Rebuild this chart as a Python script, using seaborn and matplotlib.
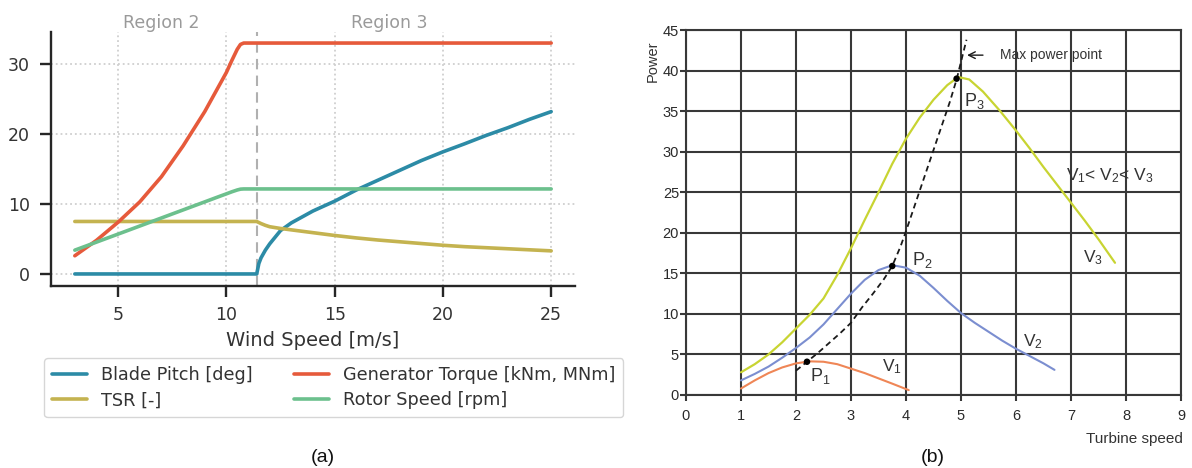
import numpy as np
import pandas as pd
import matplotlib
matplotlib.use("Agg")
import matplotlib.pyplot as plt
import seaborn as sns

# ---------------- Panel (a) data ----------------
wind = [3, 4, 5, 6, 7, 8, 9, 9.5, 10, 10.25, 10.5, 10.65, 10.8, 11, 11.4, 11.5, 11.6,
        11.8, 12, 12.5, 13, 14, 15, 16, 17, 18, 19, 20, 21, 22, 23, 24, 25]
blade_pitch = [0, 0, 0, 0, 0, 0, 0, 0, 0, 0, 0, 0, 0, 0, 0, 1.5, 2.3,
               3.4, 4.3, 6.2, 7.3, 9.0, 10.4, 12.0, 13.4, 14.8, 16.2, 17.45, 18.6, 19.8,
               20.9, 22.1, 23.2]
tsr = [7.5, 7.5, 7.5, 7.5, 7.5, 7.5, 7.5, 7.5, 7.5, 7.5, 7.5, 7.5, 7.5, 7.5, 7.5, 7.35,
       7.2, 6.95, 6.75, 6.5, 6.3, 5.9, 5.5, 5.15, 4.85, 4.6, 4.35, 4.1, 3.9, 3.75, 3.6,
       3.45, 3.3]
gen_torque = [2.6, 4.8, 7.4, 10.3, 13.9, 18.3, 23.2, 26.0, 28.8, 30.5, 32.1, 32.8, 33.0,
              33.0, 33.0, 33.0, 33.0, 33.0, 33.0, 33.0, 33.0, 33.0, 33.0, 33.0, 33.0,
              33.0, 33.0, 33.0, 33.0, 33.0, 33.0, 33.0, 33.0]
rotor_speed = [3.4, 4.55, 5.7, 6.85, 8.0, 9.15, 10.3, 10.88, 11.45, 11.74, 12.0, 12.12,
               12.15, 12.15, 12.15, 12.15, 12.15, 12.15, 12.15, 12.15, 12.15, 12.15,
               12.15, 12.15, 12.15, 12.15, 12.15, 12.15, 12.15, 12.15, 12.15, 12.15, 12.15]
series_a = ["Blade Pitch [deg]", "TSR [-]", "Generator Torque [kNm, MNm]", "Rotor Speed [rpm]"]
colors_a = ["#2C8BA6", "#C4B350", "#E65A3B", "#6CC08D"]
rated_wind = 11.4
region_labels = ["Region 2", "Region 3"]
region_x = [7.0, 17.5]

# ---------------- Panel (b) data ----------------
speed_v1 = [1.0, 1.25, 1.5, 1.75, 2.0, 2.25, 2.5, 2.75, 3.0, 3.25, 3.5, 3.75, 4.05]
power_v1 = [0.8, 1.8, 2.7, 3.4, 3.9, 4.15, 4.1, 3.8, 3.25, 2.7, 2.05, 1.4, 0.6]
speed_v2 = [1.0, 1.25, 1.5, 1.75, 2.0, 2.25, 2.5, 2.75, 3.0, 3.25, 3.5, 3.75, 4.0, 4.25,
            4.5, 4.75, 5.0, 5.25, 5.5, 5.75, 6.0, 6.25, 6.5, 6.7]
power_v2 = [1.8, 2.6, 3.5, 4.6, 5.8, 7.1, 8.7, 10.6, 12.5, 14.2, 15.4, 16.0, 15.7, 14.7,
            13.2, 11.6, 10.1, 8.9, 7.8, 6.7, 5.7, 4.8, 3.9, 3.1]
speed_v3 = [1.0, 1.25, 1.5, 1.75, 2.0, 2.25, 2.5, 2.75, 3.0, 3.25, 3.5, 3.75, 4.0, 4.25,
            4.5, 4.75, 4.95, 5.15, 5.4, 5.7, 6.0, 6.25, 6.5, 6.75, 7.0, 7.25, 7.5, 7.8]
power_v3 = [2.8, 3.8, 5.0, 6.5, 8.2, 9.9, 11.9, 14.8, 18.1, 21.6, 25.0, 28.5, 31.6, 34.2,
            36.4, 38.2, 39.2, 38.9, 37.4, 35.1, 32.6, 30.4, 28.1, 25.9, 23.7, 21.5, 19.2,
            16.3]
speed_mpp = [2.0, 2.2, 2.4, 2.6, 2.8, 3.0, 3.2, 3.4, 3.6, 3.75, 3.9, 4.0, 4.2, 4.4, 4.6,
             4.8, 4.92, 5.1]
power_mpp = [3.0, 4.1, 5.2, 6.4, 7.6, 8.9, 10.8, 12.5, 14.3, 15.9, 18.3, 20.2, 24.2, 28.2,
             32.2, 36.2, 38.9, 43.8]
speed_pts = [2.2, 3.75, 4.92]
power_pts = [4.1, 15.9, 39.0]
colors_b = ["#EF8656", "#7B8ED0", "#C8D432"]

# ---------------- style ----------------
sns.set_theme(style="ticks")
plt.rcParams["font.family"] = ["DejaVu Sans"]
plt.rcParams["mathtext.default"] = "regular"

fig = plt.figure(figsize=(11.92, 4.68), dpi=100)
W, H = 1192.0, 468.0

def rect(x0, y0, x1, y1):
    return [x0 / W, 1 - y1 / H, (x1 - x0) / W, (y1 - y0) / H]

# ================= Panel (a) =================
ax = fig.add_axes(rect(51, 31.5, 575, 285.5))
vals = [blade_pitch, tsr, gen_torque, rotor_speed]
df = pd.concat([pd.DataFrame({"wind": wind, "value": v, "series": s})
                for s, v in zip(series_a, vals)], ignore_index=True)
sns.lineplot(data=df, x="wind", y="value", hue="series", hue_order=series_a,
             palette=dict(zip(series_a, colors_a)), linewidth=2.6, ax=ax,
             estimator=None, sort=False)
ax.axvline(rated_wind, color="#b0b0b0", linestyle=(0, (5, 3)), linewidth=1.5, zorder=1)
ax.set_xticks([5, 10, 15, 20, 25])
ax.set_yticks([0, 10, 20, 30])
ax.grid(True, linestyle=":", color="#cfcfcf", linewidth=1.3)
ax.set_axisbelow(True)
sns.despine(ax=ax)
for sp in ["left", "bottom"]:
    ax.spines[sp].set_linewidth(1.7)
    ax.spines[sp].set_color("#262626")
ax.tick_params(length=8, width=1.7, color="#262626", labelsize=12.5, pad=7,
               labelcolor="#333333")
ax.set_ylabel("")
ax.set_xlabel("Wind Speed [m/s]", fontsize=14, color="#333333")
ax.xaxis.set_label_coords(0.5, (285.5 - 340) / 254.0)
ax.xaxis.label.set_va("center")
for lab, xx in zip(region_labels, region_x):
    ax.text(xx, (285.5 - 23.3) / 254.0, lab, transform=ax.get_xaxis_transform(),
            ha="center", va="center", fontsize=12.5, color="#9a9a9a")
handles, labels = ax.get_legend_handles_labels()
ax.get_legend().remove()
leg = fig.legend(handles, labels, ncol=2, loc="upper left",
                 bbox_to_anchor=(44 / W, 1 - 358 / H), fontsize=12.7,
                 frameon=True, fancybox=True, handlelength=2.0, borderaxespad=0,
                 labelspacing=0.42, columnspacing=2.3, borderpad=0.45)
leg.get_frame().set_edgecolor("#cccccc")
for t in leg.get_texts():
    t.set_color("#333333")
for h in leg.legend_handles:
    h.set_linewidth(2.6)

# ================= Panel (b) =================
ax2 = fig.add_axes(rect(686, 30, 1181, 395))
ax2.set_facecolor("white")
sns.lineplot(x=speed_v1, y=power_v1, color=colors_b[0], linewidth=1.5, ax=ax2, sort=False)
sns.lineplot(x=speed_v2, y=power_v2, color=colors_b[1], linewidth=1.5, ax=ax2, sort=False)
sns.lineplot(x=speed_v3, y=power_v3, color=colors_b[2], linewidth=1.6, ax=ax2, sort=False)
sns.lineplot(x=speed_mpp, y=power_mpp, color="#1a1a1a", linewidth=1.3,
             linestyle=(0, (3.2, 2.2)), ax=ax2, sort=False)
sns.scatterplot(x=speed_pts, y=power_pts, color="black", s=22, edgecolor="none",
                ax=ax2, zorder=5)
ax2.set_xlim(0, 9)
ax2.set_ylim(0, 45)
ax2.set_xticks(range(0, 10))
ax2.set_yticks(range(0, 46, 5))
ax2.grid(True, color="#383838", linewidth=1.5, linestyle="-")
ax2.set_axisbelow(True)
for sp in ax2.spines.values():
    sp.set_visible(True)
    sp.set_color("#383838")
    sp.set_linewidth(1.5)
lb = dict(family=["Liberation Sans", "DejaVu Sans"])
ax2.tick_params(length=4, width=1.5, color="#383838", labelsize=10.5, labelcolor="#2a2a2a")
ax2.tick_params(axis="y", pad=1)
ax2.tick_params(axis="x", pad=6)
for t in ax2.get_xticklabels() + ax2.get_yticklabels():
    t.set_family(["Liberation Sans", "DejaVu Sans"])
ax2.set_ylabel("Power", fontsize=10.5, color="#333333", **lb)
ax2.yaxis.set_label_coords((653 - 686) / 495.0, (395 - 61.5) / 365.0)
ax2.yaxis.label.set_va("center")
ax2.set_xlabel("Turbine speed", fontsize=11, color="#333333", **lb)
ax2.xaxis.set_label_coords((1183 - 686) / 495.0, (395 - 439) / 365.0)
ax2.xaxis.label.set_ha("right")
ax2.xaxis.label.set_va("center")

txt = dict(color="#333333", va="center", ha="left", **lb)
ax2.text(5.05, 36.3, r"P$_3$", fontsize=13, **txt)
ax2.text(4.10, 16.6, r"P$_2$", fontsize=13, **txt)
ax2.text(2.26, 2.3, r"P$_1$", fontsize=13, **txt)
ax2.text(3.57, 3.5, r"V$_1$", fontsize=12.5, **txt)
ax2.text(6.13, 6.6, r"V$_2$", fontsize=12.5, **txt)
ax2.text(7.21, 16.9, r"V$_3$", fontsize=12.5, **txt)
ax2.text(6.91, 27.1, r"V$_1$< V$_2$< V$_3$", fontsize=12.5, **txt)
ax2.text(5.70, 41.9, "Max power point", fontsize=10, **txt)
ax2.annotate("", xy=(5.06, 41.9), xytext=(5.45, 41.9),
             arrowprops=dict(arrowstyle="->", color="#1a1a1a", lw=1.0))

# captions
fig.text(323 / W, 1 - 458 / H, "(a)", ha="center", va="center", fontsize=14,
         color="#111111", family=["Liberation Sans", "DejaVu Sans"])
fig.text(933 / W, 1 - 457 / H, "(b)", ha="center", va="center", fontsize=14,
         color="#111111", family=["Liberation Sans", "DejaVu Sans"])

fig.savefig("out.png", dpi=100)
